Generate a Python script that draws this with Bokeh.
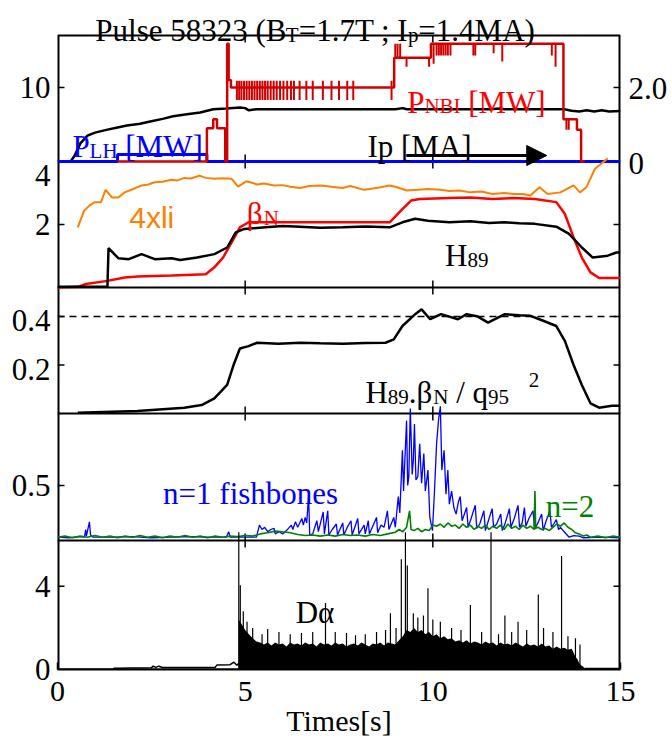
import math
from bokeh.plotting import figure
from bokeh.models import Range1d, Span, Label, FixedTicker, Arrow, NormalHead, LinearAxis
from bokeh.embed import file_html
from bokeh.resources import INLINE

# ---------------- data ----------------
# Panel 1: plasma current (MA, right axis)
t_ip = [0.35, 0.45, 0.61, 0.8, 1.0, 1.33, 1.6, 1.85, 2.2, 2.47, 2.8, 3.08, 3.4, 3.8, 4.15, 4.5, 4.86,
        5.0, 5.1, 5.3, 6.0, 7.0, 8.0, 9.0, 9.2, 9.3, 9.5, 10.5, 11.5, 11.8, 11.9, 12.5, 13.0, 13.5,
        13.7, 13.9, 14.1, 14.3, 14.5, 14.7, 15.0]
ip = [0.0, 0.15, 0.49, 0.7, 0.78, 0.86, 0.92, 0.97, 1.02, 1.08, 1.15, 1.22, 1.27, 1.32, 1.41, 1.43, 1.46,
      1.44, 1.38, 1.41, 1.41, 1.41, 1.41, 1.41, 1.44, 1.41, 1.41, 1.41, 1.41, 1.43, 1.41, 1.41, 1.41, 1.41,
      1.37, 1.35, 1.38, 1.35, 1.38, 1.35, 1.36]
# NBI power (MW), step levels
t_nbi = [1.6, 3.98, 4.15, 4.25, 4.47, 4.52, 4.56, 4.62, 8.97, 9.95, 13.48, 13.84, 13.95, 14.05]
p_nbi = [0.0, 4.5, 5.7, 4.5, 0.0, 15.9, 11.0, 10.0, 14.0, 15.9, 5.7, 4.3, 0.0, 0.0]
# NBI short notches / blips: time, level from, level to
t_blip = [4.78, 4.84, 4.9, 4.97, 5.04, 5.11, 5.18, 5.25, 5.32, 5.39, 5.46, 5.53, 5.6, 5.68, 5.76,
          5.84, 5.93, 6.02, 6.12, 6.22, 6.3, 6.45, 6.63, 6.8, 7.07, 7.3, 7.5, 7.72, 7.88, 8.9,
          9.0, 9.06, 9.13, 9.3, 9.9,
          10.02, 10.1, 10.16, 10.22, 10.28, 10.34, 10.4, 10.47, 11.08, 11.13, 11.62, 11.85, 13.17, 13.27,
          13.56, 13.62]
b_from = [10.9] * 30 + [14.0] * 5 + [15.9] * 14 + [5.7] * 2
b_to = [8.3] * 30 + [15.9, 15.9, 15.9, 12.8, 12.8] + \
       [13.2, 14.3, 14.3, 14.3, 14.3, 14.3, 14.3, 14.3, 14.3, 14.3, 14.6, 13.5, 14.3, 12.8] + [4.3, 4.3]
# LH power (MW)
t_lh = [0.0, 1.6, 3.98, 15.0]
p_lh = [0.0, 0.95, 0.0, 0.0]

# Panel 2
t_li = [0.54, 0.71, 0.85, 0.99, 1.16, 1.28, 1.45, 1.62, 1.79, 2.0, 2.24, 2.4, 2.59, 2.8, 3.04, 3.2, 3.38,
        3.55, 3.78, 3.95, 4.18, 4.4, 4.64, 4.81, 5.03, 5.2, 5.32, 5.5, 5.77, 6.0, 6.2, 6.46, 6.7, 7.03,
        7.3, 7.6, 7.8, 8.17, 8.4, 8.6, 8.85, 9.0, 9.31, 9.6, 9.87, 10.2, 10.44, 10.7, 11.0, 11.3, 11.58,
        11.9, 12.15, 12.4, 12.6, 12.84, 13.06, 13.4, 13.75, 13.92, 14.09, 14.32, 14.66]
li4 = [1.91, 2.44, 2.6, 2.71, 2.71, 3.10, 2.86, 2.86, 3.02, 3.12, 3.24, 3.26, 3.34, 3.36, 3.42, 3.4, 3.48,
       3.46, 3.55, 3.48, 3.45, 3.47, 3.45, 3.20, 3.37, 3.32, 3.27, 3.3, 3.24, 3.25, 3.2, 3.16, 3.22, 3.24,
       3.2, 3.16, 3.22, 3.10, 3.14, 3.18, 3.24, 3.2, 3.08, 3.1, 3.13, 3.1, 3.06, 3.08, 3.02, 3.05, 2.97,
       3.0, 2.97, 2.97, 2.92, 3.18, 2.97, 3.02, 3.24, 3.02, 3.18, 3.77, 4.1]
t_bn = [0.0, 0.54, 0.76, 1.33, 1.79, 2.13, 3.04, 3.95, 4.18, 4.41, 4.64, 4.86, 5.09, 6.46, 8.85, 9.19,
        9.42, 9.65, 10.44, 11.0, 11.58, 12.15, 12.72, 13.29, 13.52, 13.75, 13.97, 14.2, 14.43, 15.0]
bn = [0.0, 0.02, 0.11, 0.21, 0.32, 0.35, 0.38, 0.42, 0.64, 0.95, 1.43, 1.91, 2.07, 2.07, 2.07, 2.49,
      2.76, 2.81, 2.84, 2.86, 2.81, 2.84, 2.81, 2.71, 2.33, 1.59, 0.95, 0.48, 0.30, 0.30]
t_h = [0.0, 1.33, 1.36, 1.62, 1.9, 2.24, 2.59, 3.04, 3.27, 3.72, 4.18, 4.52, 4.75, 4.98, 5.55, 6.0, 6.46,
       7.0, 7.6, 8.2, 8.85, 9.19, 9.53, 9.87, 10.44, 11.0, 11.5, 11.92, 12.3, 12.72, 13.29, 13.63, 13.97,
       14.26, 14.66, 14.89, 15.0]
h89 = [0.02, 0.02, 1.25, 0.93, 0.90, 1.06, 0.90, 0.93, 0.87, 0.95, 1.06, 1.27, 1.75, 1.86, 1.91, 1.95,
       1.93, 1.9, 1.91, 1.94, 1.91, 2.07, 2.18, 2.12, 2.07, 2.10, 2.05, 2.07, 2.04, 2.02, 1.93, 1.70,
       1.27, 0.95, 1.01, 1.11, 1.11]

# Panel 3
t_q = [0.54, 2.13, 3.38, 3.84, 4.18, 4.52, 4.69, 4.86, 5.09, 5.32, 5.89, 6.46, 7.0, 7.6, 8.2, 8.74, 8.96,
       9.19, 9.53, 9.7, 9.93, 10.22, 10.67, 10.9, 11.2, 11.47, 11.92, 12.3, 12.6, 12.84, 13.29, 13.52,
       13.75, 13.97, 14.2, 14.43, 14.77, 15.0]
hbq = [0.003, 0.01, 0.024, 0.035, 0.0625, 0.118, 0.20, 0.268, 0.278, 0.292, 0.288, 0.292, 0.29, 0.288,
       0.291, 0.292, 0.306, 0.361, 0.41, 0.43, 0.389, 0.41, 0.389, 0.41, 0.40, 0.375, 0.41, 0.405, 0.403,
       0.389, 0.361, 0.299, 0.20, 0.118, 0.042, 0.024, 0.032, 0.032]
ref_level = 0.4

# Panel 4: n=1 fishbones (blue) and n=2 (green)
t_n1 = [0.0, 0.3, 0.6, 0.72, 0.75, 0.77, 0.85, 0.88, 0.95, 1.5, 2.0, 2.5, 3.0, 3.5, 4.0, 4.5, 4.56, 4.6,
        5.3, 5.38, 5.45, 5.52, 5.6, 5.68, 5.77, 5.8, 5.9, 6.0, 6.1, 6.23, 6.27, 6.34, 6.4, 6.51, 6.55,
        6.6, 6.64, 6.69, 6.72, 6.8, 6.91, 6.95, 7.08, 7.11, 7.2, 7.23, 7.32, 7.43, 7.46, 7.6, 7.63, 7.72,
        7.82, 7.85, 8.0, 8.03, 8.17, 8.2, 8.28, 8.31, 8.5, 8.53, 8.62, 8.7, 8.79, 8.83, 8.96, 9.0, 9.08,
        9.12, 9.19, 9.22, 9.3, 9.33, 9.36, 9.4, 9.45, 9.48, 9.51, 9.55, 9.6, 9.65, 9.7, 9.76, 9.8, 9.87,
        9.92, 9.99, 10.04, 10.1, 10.15, 10.2, 10.24, 10.3, 10.35, 10.4, 10.44, 10.5, 10.56, 10.62, 10.68,
        10.73, 10.78, 10.9, 10.94, 11.02, 11.13, 11.17, 11.25, 11.36, 11.4, 11.48, 11.58, 11.62, 11.7,
        11.81, 11.85, 11.93, 12.04, 12.08, 12.17, 12.27, 12.31, 12.38, 12.44, 12.48, 12.56, 12.67, 12.71,
        12.8, 12.9, 12.94, 13.02, 13.12, 13.16, 13.22, 13.29, 13.35, 13.4, 13.5, 13.63, 13.75, 13.9, 14.0,
        14.5, 15.0]
n1 = [0.03, 0.025, 0.035, 0.03, 0.1, 0.04, 0.17, 0.05, 0.03, 0.03, 0.035, 0.025, 0.03, 0.035, 0.03, 0.03,
      0.08, 0.03, 0.03, 0.14, 0.1, 0.12, 0.08, 0.1, 0.11, 0.06, 0.08, 0.06, 0.09, 0.14, 0.1, 0.17, 0.12,
      0.2, 0.14, 0.21, 0.16, 0.41, 0.05, 0.06, 0.18, 0.08, 0.26, 0.06, 0.27, 0.05, 0.1, 0.15, 0.05, 0.16,
      0.05, 0.12, 0.18, 0.05, 0.2, 0.06, 0.14, 0.06, 0.18, 0.06, 0.21, 0.07, 0.14, 0.12, 0.27, 0.1, 0.21,
      0.12, 0.4, 0.25, 0.82, 0.45, 1.09, 0.5, 0.58, 1.2, 0.6, 0.73, 1.06, 0.55, 0.58, 0.88, 0.52, 0.79,
      0.45, 0.64, 0.21, 0.09, 0.42, 0.88, 1.09, 1.22, 0.64, 0.82, 0.42, 0.64, 0.33, 0.45, 0.3, 0.24, 0.35,
      0.4, 0.18, 0.3, 0.12, 0.2, 0.32, 0.11, 0.15, 0.27, 0.09, 0.18, 0.29, 0.12, 0.15, 0.24, 0.09, 0.16,
      0.29, 0.12, 0.2, 0.32, 0.12, 0.16, 0.3, 0.13, 0.2, 0.27, 0.1, 0.16, 0.24, 0.09, 0.18, 0.27, 0.12,
      0.15, 0.19, 0.1, 0.12, 0.08, 0.03, 0.045, 0.04, 0.025, 0.03, 0.025]
t_n2 = [0.0, 0.2, 0.4, 0.6, 0.8, 1.0, 1.2, 1.4, 1.6, 1.8, 2.0, 2.2, 2.4, 2.6, 2.8, 3.0, 3.2, 3.4, 3.6,
        3.8, 4.0, 4.2, 4.4, 4.6, 4.8, 5.0, 5.2, 5.4, 5.6, 5.8, 6.0, 6.2, 6.4, 6.6, 6.8, 7.0, 7.2, 7.4,
        7.6, 7.8, 8.0, 8.2, 8.4, 8.6, 8.8, 9.0, 9.1, 9.2, 9.3, 9.38, 9.42, 9.5, 9.6, 9.7, 9.8, 9.9, 10.0,
        10.1, 10.2, 10.3, 10.4, 10.5, 10.6, 10.7, 10.8, 10.9, 11.0, 11.1, 11.2, 11.3, 11.4, 11.5, 11.6,
        11.7, 11.8, 11.9, 12.0, 12.1, 12.2, 12.3, 12.4, 12.5, 12.6, 12.7, 12.72, 12.74, 12.8, 12.9, 13.0,
        13.1, 13.2, 13.3, 13.4, 13.5, 13.6, 13.7, 13.8, 13.9, 14.0, 14.1, 14.2, 14.4, 14.6, 14.8, 15.0]
n2 = [0.03, 0.04, 0.025, 0.04, 0.03, 0.045, 0.03, 0.04, 0.025, 0.04, 0.03, 0.045, 0.03, 0.04, 0.025,
      0.04, 0.03, 0.045, 0.03, 0.04, 0.025, 0.04, 0.03, 0.04, 0.035, 0.045, 0.04, 0.06, 0.07, 0.085, 0.08,
      0.07, 0.055, 0.045, 0.05, 0.04, 0.05, 0.04, 0.055, 0.045, 0.05, 0.04, 0.055, 0.045, 0.06, 0.075,
      0.1, 0.08, 0.12, 0.27, 0.1, 0.09, 0.11, 0.08, 0.1, 0.09, 0.14, 0.13, 0.15, 0.12, 0.16, 0.13, 0.14,
      0.11, 0.15, 0.12, 0.14, 0.1, 0.13, 0.11, 0.14, 0.1, 0.13, 0.11, 0.14, 0.1, 0.15, 0.11, 0.13, 0.1,
      0.14, 0.11, 0.13, 0.1, 0.45, 0.11, 0.12, 0.1, 0.11, 0.09, 0.12, 0.15, 0.13, 0.16, 0.12, 0.1, 0.07,
      0.06, 0.04, 0.05, 0.03, 0.04, 0.025, 0.04, 0.03]

# Panel 5: D-alpha
t_da0 = [0.0, 1.5, 1.5, 2.5, 2.55, 2.62, 2.7, 2.8, 3.5, 4.2, 4.25, 4.6, 4.7, 4.78, 4.83]
da0 = [0.0, 0.0, 0.06, 0.08, 0.16, 0.1, 0.16, 0.1, 0.1, 0.1, 0.22, 0.23, 0.35, 0.2, 0.3]
t_da = [4.83, 4.9, 5.0, 5.1, 5.2, 5.3, 5.4, 5.5, 5.6, 5.7, 5.8, 5.9, 6.0, 6.1, 6.2, 6.3, 6.4, 6.5, 6.6,
        6.7, 6.8, 6.9, 7.0, 7.1, 7.2, 7.3, 7.4, 7.5, 7.6, 7.7, 7.8, 7.9, 8.0, 8.1, 8.2, 8.3, 8.4, 8.5,
        8.6, 8.7, 8.8, 8.9, 9.0, 9.1, 9.2, 9.3, 9.4, 9.5, 9.6, 9.7, 9.8, 9.9, 10.0, 10.1, 10.2, 10.3,
        10.4, 10.5, 10.6, 10.7, 10.8, 10.9, 11.0, 11.1, 11.2, 11.3, 11.4, 11.5, 11.6, 11.7, 11.8, 11.9,
        12.0, 12.1, 12.2, 12.3, 12.4, 12.5, 12.6, 12.7, 12.8, 12.9, 13.0, 13.1, 13.2, 13.3, 13.4, 13.5,
        13.6, 13.7, 13.75, 13.8, 13.85, 13.9, 13.95, 14.0, 14.05]
da = [2.4, 2.2, 1.9, 1.7, 1.5, 1.35, 1.3, 1.2, 1.3, 1.15, 1.3, 1.2, 1.25, 1.1, 1.3, 1.2, 1.25, 1.15, 1.3,
      1.2, 1.25, 1.1, 1.3, 1.2, 1.25, 1.15, 1.3, 1.2, 1.25, 1.1, 1.2, 1.25, 1.15, 1.3, 1.2, 1.1, 1.25,
      1.2, 1.3, 1.15, 1.3, 1.25, 1.2, 1.4, 1.6, 1.9, 1.8, 2.0, 1.8, 1.9, 1.7, 1.8, 1.6, 1.7, 1.5, 1.6,
      1.45, 1.5, 1.35, 1.4, 1.3, 1.4, 1.25, 1.35, 1.3, 1.2, 1.35, 1.25, 1.3, 1.15, 1.3, 1.2, 1.25, 1.15,
      1.3, 1.2, 1.1, 1.25, 1.15, 1.2, 1.1, 1.25, 1.1, 1.15, 1.0, 1.1, 1.0, 1.05, 0.95, 1.0, 0.8, 0.6,
      0.5, 0.3, 0.2, 0.15, 0.05]
t_da2 = [14.05, 15.0]
da2 = [0.05, 0.05]
t_spk = [4.83, 4.87, 4.95, 5.05, 5.2, 5.45, 5.6, 5.9, 6.2, 6.5, 6.8, 7.14, 7.4, 7.7, 7.94, 8.2, 8.5,
         8.74, 8.87, 9.02, 9.16, 9.27, 9.32, 9.48, 9.6, 9.75, 9.87, 10.0, 10.2, 10.5, 10.75, 11.0, 11.3,
         11.55, 11.75, 11.92, 12.1, 12.27, 12.5, 12.81, 12.95, 13.2, 13.43, 13.6, 13.8, 13.92]
spk = [6.6, 4.05, 2.8, 2.3, 2.0, 1.7, 1.95, 1.8, 1.7, 1.75, 1.8, 3.2, 1.8, 1.75, 1.65, 1.7, 1.8, 1.9,
       2.7, 2.0, 5.3, 6.6, 5.0, 2.7, 2.5, 2.6, 3.9, 2.4, 2.3, 2.0, 1.9, 3.1, 1.8, 6.6, 1.7, 2.6, 1.8,
       2.3, 1.9, 3.6, 2.0, 1.8, 5.45, 1.6, 1.5, 1.2]

# axis ticks and labels
x_ticks = [0, 5, 10, 15]
x_inner_ticks = [5, 10]
nbi_ticks, nbi_labels = [10], ["10"]
ip_ticks, ip_labels = [0, 2.0], ["0", "2.0"]
p2_ticks, p2_labels = [2, 4], ["2", "4"]
p3_ticks, p3_labels = [0.2, 0.4], ["0.2", "0.4"]
p4_ticks, p4_labels = [0.5], ["0.5"]
p5_ticks, p5_labels = [0, 4], ["0", "4"]

# ---------------- layout ----------------
SERIF = "Liberation Serif"
SANS = "Liberation Sans"
W, H = 670, 742
FL, FR, FT, FB = 57, 622, 0, 669          # frame edges in page px (frame top = canvas top)
PT = 35                                    # top of the first panel

p = figure(width=W, height=H, x_range=Range1d(0, 15), y_range=Range1d(0, FB - FT),
           output_backend="svg", toolbar_location=None,
           min_border_left=FL, min_border_right=W - FR,
           min_border_top=FT, min_border_bottom=H - FB)
p.grid.visible = False
p.outline_line_color = None
p.background_fill_color = "white"
p.border_fill_color = "white"


def band(top, bot, lo, hi):
    k = (hi - lo) / (bot - top)
    return Range1d(lo - (FB - bot) * k, hi + (top - FT) * k)


rngs = {
    "nbi": band(35, 161, 0, 17.0),
    "ip": band(35, 161, 0, 3.4),
    "p2": band(161, 287, 0, 4.0),
    "p3": band(287, 413, 0, 0.52),
    "p4": band(413, 540, 0, 1.155),
    "p5": band(540, 669, 0, 6.2),
}
p.extra_y_ranges = rngs
tops = {"nbi": 17.0, "p2": 4.0, "p3": 0.52, "p4": 1.155, "p5": 6.2}


def X(px):
    return (px - FL) * 15.0 / (FR - FL)


def Y(py):
    return FB - py


def to_main(rn, v, down=0.0):
    r = rngs[rn]
    return round(max((v - r.start) / (r.end - r.start) * (FB - FT) - down, 0.5), 2)


# x axis (bottom)
ax = p.xaxis[0]
ax.ticker = FixedTicker(ticks=x_ticks)
ax.major_tick_in = 7
ax.major_tick_out = 0
ax.minor_tick_line_color = None
ax.axis_line_color = "black"
ax.axis_line_width = 2
ax.major_tick_line_width = 1.5
ax.major_label_text_font = SERIF
ax.major_label_text_font_size = "30px"
ax.major_label_standoff = 12
ax.major_label_text_color = "black"
ax.axis_label = "Times[s]"
ax.axis_label_text_font = SERIF
ax.axis_label_text_font_size = "30px"
ax.axis_label_text_font_style = "normal"
ax.axis_label_text_color = "black"
ax.axis_label_standoff = 0

# left axis: tick labels of all panels
left_pos, left_txt = [], []
for rn, ticks, labels, hang in [("nbi", nbi_ticks, nbi_labels, {}), ("p2", p2_ticks, p2_labels, {4: 14}),
                                ("p3", p3_ticks, p3_labels, {0.2: 4, 0.4: 4}),
                                ("p4", p4_ticks, p4_labels, {}), ("p5", p5_ticks, p5_labels, {0: 11})]:
    for v, s in zip(ticks, labels):
        left_pos.append(to_main(rn, v, hang.get(v, 0)))
        left_txt.append(s)
right_pos = [to_main("ip", v, 1.5) for v in ip_ticks]
right_txt = list(ip_labels)


def style_y(a, pos, txt, standoff):
    a.ticker = FixedTicker(ticks=pos)
    a.major_label_overrides = dict(zip(pos, txt))
    a.major_tick_in = 0
    a.major_tick_out = 0
    a.major_tick_line_color = None
    a.minor_tick_line_color = None
    a.axis_line_color = None
    a.major_label_standoff = standoff
    a.major_label_text_font = SERIF
    a.major_label_text_font_size = "31px"
    a.major_label_text_color = "black"


style_y(p.yaxis[0], left_pos, left_txt, 7)
ra = LinearAxis()
style_y(ra, right_pos, right_txt, 8)
p.add_layout(ra, "right")

# frame lines (panel borders)
p.segment(x0=[0, 15], y0=[Y(669), Y(669)], x1=[0, 15], y1=[Y(PT), Y(PT)], line_color="black",
          line_width=4)
p.segment(x0=0, y0=Y(PT), x1=15, y1=Y(PT), line_color="black", line_width=2)
for rn in ["p2", "p3", "p4", "p5"]:
    p.add_layout(Span(location=0, dimension="width", y_range_name=rn, line_color="black",
                      line_width=2, level="underlay"))
p.add_layout(Span(location=ref_level, dimension="width", y_range_name="p3", line_color="black",
                  line_width=1.5, line_dash="7 5"))

# inner ticks
for rn, top in tops.items():
    p.ray(x=x_inner_ticks, y=0, length=7, angle=math.pi / 2, length_units="screen",
          y_range_name=rn, line_color="black", line_width=1.5)
    p.ray(x=x_inner_ticks, y=top, length=7, angle=-math.pi / 2, length_units="screen",
          y_range_name=rn, line_color="black", line_width=1.5)
for rn, ticks in [("nbi", nbi_ticks), ("p2", [2]), ("p3", p3_ticks), ("p4", p4_ticks), ("p5", [4])]:
    p.ray(x=0, y=ticks, length=7, angle=0, length_units="screen", y_range_name=rn,
          line_color="black", line_width=1.5)
    p.ray(x=15, y=ticks, length=7, angle=math.pi, length_units="screen", y_range_name=rn,
          line_color="black", line_width=1.5)

# ---------------- data glyphs ----------------
p.line(t_ip, ip, y_range_name="ip", line_color="black", line_width=2.5)
p.step(t_lh, p_lh, mode="after", y_range_name="nbi", line_color="#0000ff", line_width=3)
p.step(t_nbi, p_nbi, mode="after", y_range_name="nbi", line_color="#d00000", line_width=2.5)
p.segment(x0=t_blip, y0=b_from, x1=t_blip, y1=b_to, y_range_name="nbi", line_color="#d00000",
          line_width=2)

p.line(t_li, li4, y_range_name="p2", line_color="#ff8000", line_width=2)
p.line(t_bn, bn, y_range_name="p2", line_color="#ff0000", line_width=2.5)
p.line(t_h, h89, y_range_name="p2", line_color="black", line_width=2.5)

p.line(t_q, hbq, y_range_name="p3", line_color="black", line_width=2.5)

p.line(t_n1, n1, y_range_name="p4", line_color="#0000ff", line_width=1.3)
p.line(t_n2, n2, y_range_name="p4", line_color="#008000", line_width=1.6)

p.line(t_da0, da0, y_range_name="p5", line_color="black", line_width=1.5)
p.varea(x=t_da, y1=0, y2=da, y_range_name="p5", fill_color="black")
p.line(t_da2, da2, y_range_name="p5", line_color="black", line_width=1.5)
p.segment(x0=t_spk, y0=0, x1=t_spk, y1=spk, y_range_name="p5", line_color="black", line_width=1.2)

# ---------------- texts ----------------
TW = {' ': 250, 'P': 556, 'u': 500, 'l': 278, 's': 389, 'e': 444, '(': 333, ')': 333, 'B': 667,
      'T': 611, '=': 564, '.': 250, ';': 278, 'I': 333, 'p': 500, 'M': 889, 'A': 722, '[': 333,
      ']': 333, 'W': 944, 'L': 611, 'H': 722, 'N': 722, 'x': 500, 'i': 278, 'n': 500, 'f': 333,
      'h': 500, 'b': 500, 'o': 500, 'D': 722, 'q': 500, '/': 278, 'β': 550, 'α': 520, 'm': 778,
      't': 278}


def tw(s, size):
    return sum(TW.get(c, 500) for c in s) * size / 1000.0


def rich(pieces, x0, base, color, font=SERIF):
    x = x0
    for text, size, dy, gap in pieces:
        x += gap
        lead = len(text) - len(text.lstrip(" "))
        x += tw(" " * lead, size)
        body = text.strip(" ")
        p.add_layout(Label(x=X(x), y=Y(base + dy), text=body, text_font=font,
                           text_font_size=f"{size}px", text_color=color,
                           text_baseline="alphabetic", text_align="left"))
        x += tw(body, size) + tw(" " * (len(text) - lead - len(body)), size)


M, S = 31, 21
rich([("Pulse 58323 (B", M, 0, 0), ("T", S, 4, 0), ("=1.7T ; I", M, 0, 0), ("p", S, 4, 0),
      ("=1.4MA)", M, 0, 0)], 95, 30, "black")
rich([("P", M, 0, 0), ("LH", S, 4, 0), (" [MW]", M, 0, 0)], 72, 146, "#0000ff")
rich([("P", M, 0, 0), ("NBI", S, 3, 0), (" [MW]", M, 0, 0)], 408, 102, "#ff0000")
rich([("Ip [MA]", M, 0, 0)], 368, 146, "black")
p.add_layout(Arrow(end=NormalHead(size=20, fill_color="black", line_color="black"),
                   x_start=X(407), y_start=Y(155), x_end=X(548), y_end=Y(155),
                   line_color="black", line_width=3))
p.add_layout(Label(x=X(129), y=Y(217), text="4xli", text_font=SANS, text_font_size="30px",
                   text_color="#ff8000", text_baseline="alphabetic"))
rich([("β", M, 0, 0), ("N", S, 4, 0)], 247, 213, "#ff0000")
rich([("H", M, 0, 0), ("89", S, 4, 0)], 446, 255, "black")
rich([("H", M, 0, 0), ("89", S, 4, 0), (".β", M, 0, 0), ("N", S, 4, 0), (" / q", M, 0, 0),
      ("95", S, 4, 0), ("2", S, -13, 20)], 366, 392, "black")
rich([("n=1 fishbones", M, 0, 0)], 163, 493, "#0000ff")
rich([("n=2", M, 0, 0)], 547, 506, "#008000")
rich([("Dα", M, 0, 0)], 296, 612, "black")

open("out.html", "w").write(file_html(p, INLINE))
